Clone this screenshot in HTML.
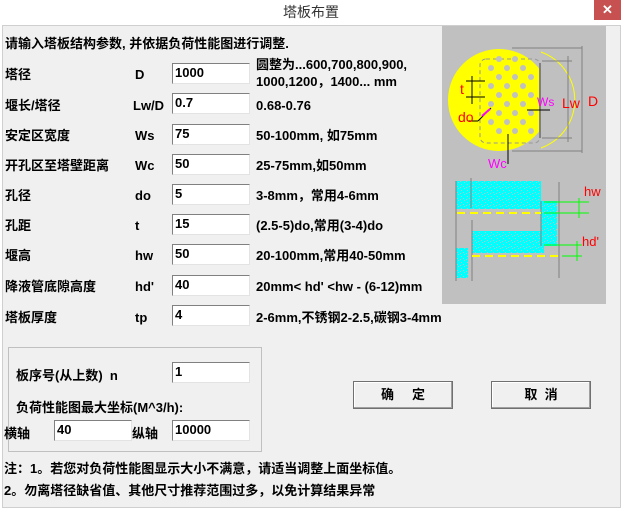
<!DOCTYPE html>
<html><head><meta charset="utf-8"><style>
body{margin:0;width:622px;height:509px;overflow:hidden;background:#fff;font-family:"Liberation Sans","Noto Sans CJK SC",sans-serif;}
.win{position:absolute;left:0;top:0;width:622px;height:509px;background:#fff;}
.title{position:absolute;left:0;top:0;width:622px;height:25px;text-align:center;line-height:24px;font-size:14px;color:#333;}
.close{position:absolute;left:594px;top:0;width:27px;height:20px;background:#c75050;color:#fff;text-align:center;line-height:19px;font-size:13px;font-weight:bold;}
.client{position:absolute;left:2px;top:25px;width:617px;height:481px;background:#f0f0f0;border:1px solid #cfcfcf;}
.t{position:absolute;font-size:13px;font-weight:bold;color:#000;white-space:nowrap;line-height:15px;}
.in{position:absolute;width:74px;height:19px;background:#fff;border-top:1px solid #808080;border-left:1px solid #808080;border-right:1px solid #e3e3e3;border-bottom:1px solid #e3e3e3;font-size:13px;font-weight:bold;line-height:18px;padding-left:2px;box-sizing:content-box;}
.btn{position:absolute;width:98px;height:26px;background:#f0f0f0;border:1px solid #707070;box-shadow:inset -1px -1px #a0a0a0,inset 1px 1px #fff;text-align:center;line-height:26px;font-size:13px;font-weight:bold;}
.grp{position:absolute;left:8px;top:347px;width:252px;height:103px;border:1px solid #c0c0c0;}
</style></head><body><div class="win">
<div class="title">塔板布置</div><div class="close">✕</div>
<div class="client"></div>
<div class="t" style="left:5px;top:36px">请输入塔板结构参数, 并依据负荷性能图进行调整.</div>

<div class="t" style="left:5px;top:67px">塔径</div><div class="t" style="left:135px;top:67px">D</div><div class="in" style="left:172px;top:63px">1000</div>
<div class="t" style="left:256px;top:57px">圆整为...600,700,800,900,</div><div class="t" style="left:256px;top:74px">1000,1200，1400... mm</div>

<div class="t" style="left:5px;top:98px">堰长/塔径</div><div class="t" style="left:133px;top:98px">Lw/D</div><div class="in" style="left:172px;top:93px">0.7</div><div class="t" style="left:256px;top:98px">0.68-0.76</div>

<div class="t" style="left:5px;top:128px">安定区宽度</div><div class="t" style="left:135px;top:128px">Ws</div><div class="in" style="left:172px;top:124px">75</div><div class="t" style="left:256px;top:128px">50-100mm, 如75mm</div>

<div class="t" style="left:5px;top:158px">开孔区至塔壁距离</div><div class="t" style="left:135px;top:158px">Wc</div><div class="in" style="left:172px;top:154px">50</div><div class="t" style="left:256px;top:158px">25-75mm,如50mm</div>

<div class="t" style="left:5px;top:188px">孔径</div><div class="t" style="left:135px;top:188px">do</div><div class="in" style="left:172px;top:184px">5</div><div class="t" style="left:256px;top:188px">3-8mm，常用4-6mm</div>

<div class="t" style="left:5px;top:218px">孔距</div><div class="t" style="left:135px;top:218px">t</div><div class="in" style="left:172px;top:214px">15</div><div class="t" style="left:256px;top:218px">(2.5-5)do,常用(3-4)do</div>

<div class="t" style="left:5px;top:248px">堰高</div><div class="t" style="left:135px;top:248px">hw</div><div class="in" style="left:172px;top:244px">50</div><div class="t" style="left:256px;top:248px">20-100mm,常用40-50mm</div>

<div class="t" style="left:5px;top:279px">降液管底隙高度</div><div class="t" style="left:135px;top:279px">hd'</div><div class="in" style="left:172px;top:275px">40</div><div class="t" style="left:256px;top:279px">20mm&lt; hd' &lt;hw - (6-12)mm</div>

<div class="t" style="left:5px;top:310px">塔板厚度</div><div class="t" style="left:135px;top:310px">tp</div><div class="in" style="left:172px;top:305px">4</div><div class="t" style="left:256px;top:310px">2-6mm,不锈钢2-2.5,碳钢3-4mm</div>

<svg style="position:absolute;left:442px;top:26px" width="164" height="278" viewBox="0 0 164 278">
<defs><pattern id="sp" width="6" height="6" patternUnits="userSpaceOnUse"><rect width="6" height="6" fill="#00ffff"/><rect x="1" y="2" width="1" height="1" fill="#c0c0c0"/><rect x="4" y="0" width="1" height="1" fill="#c0c0c0"/><rect x="3" y="4" width="1" height="1" fill="#c0c0c0"/><rect x="0" y="5" width="1" height="1" fill="#c0c0c0"/></pattern></defs>
<rect width="164" height="278" fill="#c0c0c0"/>
<circle cx="57" cy="74" r="51" fill="#ffff00"/>
<rect x="99" y="20" width="20" height="110" fill="#c0c0c0"/>
<path d="M99 26 A51 51 0 0 1 99 122" fill="none" stroke="#ffff00" stroke-width="1"/>
<rect x="38" y="33" width="60" height="84" rx="6" fill="none" stroke="#999" stroke-dasharray="4 3"/>
<g fill="#c0c0c0">
<circle cx="57" cy="33" r="3"/><circle cx="73" cy="33" r="3"/>
<circle cx="49" cy="42" r="3"/><circle cx="65" cy="42" r="3"/><circle cx="81" cy="42" r="3"/>
<circle cx="57" cy="51" r="3"/><circle cx="73" cy="51" r="3"/><circle cx="89" cy="51" r="3"/>
<circle cx="49" cy="60" r="3"/><circle cx="65" cy="60" r="3"/><circle cx="81" cy="60" r="3"/>
<circle cx="57" cy="69" r="3"/><circle cx="73" cy="69" r="3"/><circle cx="89" cy="69" r="3"/>
<circle cx="49" cy="78" r="3"/><circle cx="65" cy="78" r="3"/><circle cx="81" cy="78" r="3"/>
<circle cx="57" cy="87" r="3"/><circle cx="73" cy="87" r="3"/><circle cx="89" cy="87" r="3"/>
<circle cx="49" cy="96" r="3"/><circle cx="65" cy="96" r="3"/><circle cx="81" cy="96" r="3"/>
<circle cx="57" cy="105" r="3"/><circle cx="73" cy="105" r="3"/><circle cx="89" cy="105" r="3"/>
</g>
<line x1="98" y1="37" x2="98" y2="112" stroke="#808080" stroke-width="2"/>
<g stroke="#808080"><line x1="70" y1="22" x2="140" y2="22"/><line x1="70" y1="125" x2="140" y2="125"/><line x1="140" y1="20" x2="140" y2="127"/>
<line x1="100" y1="35" x2="130" y2="35"/><line x1="100" y1="112" x2="130" y2="112"/><line x1="126" y1="30" x2="126" y2="116"/></g>
<g stroke="#000"><line x1="30" y1="50" x2="30" y2="78"/><line x1="24" y1="55" x2="43" y2="55"/><line x1="24" y1="71" x2="43" y2="71"/>
<line x1="26" y1="95" x2="36" y2="95"/><line x1="36" y1="95" x2="49" y2="82"/><line x1="85" y1="84" x2="108" y2="84"/><line x1="66" y1="108" x2="66" y2="138"/></g>
<line x1="40" y1="90" x2="48" y2="83" stroke="#ff00ff" stroke-width="2"/>
<text x="18" y="68" fill="#f00" font-size="14">t</text><text x="16" y="96" fill="#f00" font-size="14">do</text>
<text x="95" y="80" fill="#f0f" font-size="12">Ws</text><text x="120" y="82" fill="#f00" font-size="14">Lw</text><text x="146" y="80" fill="#f00" font-size="14">D</text>
<text x="46" y="142" fill="#f0f" font-size="13">Wc</text>
<g fill="url(#sp)"><rect x="14" y="155" width="85" height="28"/><rect x="99" y="175" width="16" height="45"/><rect x="30" y="205" width="72" height="22"/><rect x="14" y="222" width="12" height="30"/></g>
<g stroke="#808080"><line x1="14" y1="155" x2="14" y2="255"/><line x1="117" y1="156" x2="117" y2="252"/><line x1="30" y1="194" x2="30" y2="255"/><line x1="29" y1="152" x2="29" y2="182"/><line x1="99" y1="175" x2="99" y2="220"/></g>
<g stroke="#ffff00" stroke-width="2" stroke-dasharray="8 5"><line x1="15" y1="187" x2="99" y2="187"/><line x1="30" y1="230" x2="117" y2="230"/></g>
<g stroke="#00ff00"><line x1="102" y1="176" x2="147" y2="176"/><line x1="102" y1="187" x2="147" y2="187"/><line x1="137" y1="172" x2="137" y2="192"/>
<line x1="102" y1="219" x2="140" y2="219"/><line x1="120" y1="230" x2="140" y2="230"/><line x1="135" y1="215" x2="135" y2="235"/></g>
<text x="142" y="170" fill="#f00" font-size="13">hw</text><text x="140" y="220" fill="#f00" font-size="13">hd'</text>
</svg>

<div class="grp"></div>
<div class="t" style="left:16px;top:368px">板序号(从上数)&nbsp; n</div><div class="in" style="left:172px;top:362px">1</div>
<div class="t" style="left:16px;top:400px">负荷性能图最大坐标(M^3/h):</div>
<div class="t" style="left:4px;top:426px">横轴</div><div class="in" style="left:54px;top:420px">40</div>
<div class="t" style="left:132px;top:426px">纵轴</div><div class="in" style="left:172px;top:420px">10000</div>
<div class="btn" style="left:353px;top:381px">确&nbsp;&nbsp;&nbsp;&nbsp;&nbsp;定</div>
<div class="btn" style="left:491px;top:381px">取&nbsp;&nbsp;消</div>
<div class="t" style="left:4px;top:461px">注：1。若您对负荷性能图显示大小不满意，请适当调整上面坐标值。</div>
<div class="t" style="left:4px;top:483px">2。勿离塔径缺省值、其他尺寸推荐范围过多，以免计算结果异常</div>
</div></body></html>
